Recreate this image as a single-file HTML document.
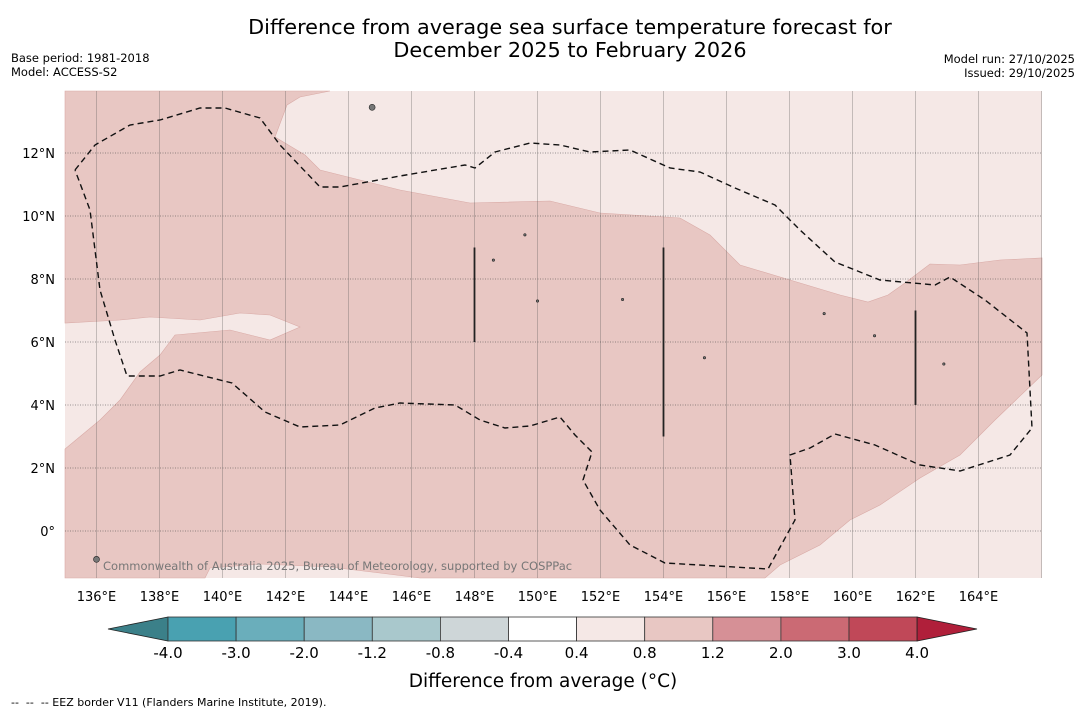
<!DOCTYPE html>
<html><head><meta charset="utf-8"><style>
body{margin:0;background:#fff;}
svg{display:block;font-family:"DejaVu Sans","Liberation Sans",sans-serif;}
</style></head><body>
<svg id="c" width="1085" height="713" viewBox="0 0 1085 713">
<text x="570" y="34" text-anchor="middle" font-size="20.8">Difference from average sea surface temperature forecast for</text>
<text x="570" y="57" text-anchor="middle" font-size="20.8">December 2025 to February 2026</text>
<text x="11" y="62" font-size="11.5">Base period: 1981-2018</text>
<text x="11" y="76" font-size="11.5">Model: ACCESS-S2</text>
<text x="1075" y="63" font-size="11.5" text-anchor="end">Model run: 27/10/2025</text>
<text x="1075" y="77" font-size="11.5" text-anchor="end">Issued: 29/10/2025</text>
<text x="11" y="706" font-size="11" xml:space="preserve">--  --  -- EEZ border V11 (Flanders Marine Institute, 2019).</text>
<g id="map"></g>
<g id="cbar"></g>
</svg>
<script>
const lonTicks=[136,138,140,142,144,146,148,150,152,154,156,158,160,162,164];
const latTicks=[0,2,4,6,8,10,12];
const cbLevels=["-4.0","-3.0","-2.0","-1.2","-0.8","-0.4","0.4","0.8","1.2","2.0","3.0","4.0"];
const cbColors=["#49a1b1","#6aaebb","#8ab8c3","#a9c8cc","#ced6d8","#ffffff","#f5e8e6","#e8c7c3","#d69096","#cb6a74","#c04858"];
const darkPx=[[65,91],[330,91],[300,97],[287,105],[275,137],[305,155],[320,170],[400,190],[470,203],[550,201],[600,213],[680,218],[710,235],[740,265],[790,280],[840,295],[868,302],[888,295],[905,283],[930,264],[960,265],[1000,260],[1042,258],[1042,375],[995,420],[960,455],[920,478],[880,505],[850,520],[820,545],[780,565],[765,578],[420,578],[380,573],[330,567],[260,564],[210,568],[205,578],[65,578],[65,449],[100,420],[120,400],[140,372],[160,355],[175,335],[230,330],[270,340],[300,327],[270,315],[240,313],[200,320],[150,317],[120,320],[65,323]];
const eezPx=[[75,170],[95,145],[130,125],[160,120],[200,108],[225,108],[260,118],[280,145],[320,187],[340,187],[400,176],[465,165],[475,168],[495,152],[530,143],[560,145],[590,152],[630,150],[670,168],[700,172],[735,188],[775,205],[800,230],[835,262],[880,280],[935,285],[950,277],[985,300],[1027,333],[1032,428],[1010,455],[960,471],[920,465],[875,445],[835,434],[810,448],[790,455],[795,520],[768,569],[665,563],[630,545],[600,510],[583,480],[592,452],[575,435],[560,417],[530,426],[505,428],[480,420],[455,405],[400,403],[375,408],[340,425],[300,427],[265,412],[232,383],[180,370],[160,376],[127,376],[115,340],[100,290],[90,210],[75,170]];
const darkLL=darkPx.map(p=>[135+(p[0]-65)/31.5,(531-p[1])/31.5]);
const eezLL=eezPx.map(p=>[135+(p[0]-65)/31.5,(531-p[1])/31.5]);
const segLon=[148,154,162], segLat0=[6,3,4], segLat1=[9,9,7];
const islLon=[144.75,149.6,152.7,155.3,159.1,160.7,162.9,136.0,150.0,148.6];
const islLat=[13.45,9.4,7.35,5.5,6.9,6.2,5.3,-0.9,7.3,8.6];

const NS="http://www.w3.org/2000/svg";
const X=lon=>65+(lon-135)*31.5, Y=lat=>531-lat*31.5;
function mk(t,a,p){const e=document.createElementNS(NS,t);for(const k in a)e.setAttribute(k,a[k]);(p||map).appendChild(e);return e;}
const map=document.getElementById('map'), cb=document.getElementById('cbar');

let r=mk('rect',{x:65,y:91,width:977,height:487,fill:'#f5e8e6'});


let pg=mk('polygon',{points:darkLL.map(p=>X(p[0])+','+Y(p[1])).join(' '),fill:'#e8c7c3',stroke:'#d9aaa6','stroke-width':0.6});



lonTicks.concat([166]).forEach(l=>{
  const g=mk('line',{x1:X(l),x2:X(l),y1:91,y2:578,stroke:'rgba(80,80,80,0.3)','stroke-width':1});
  
  
});
latTicks.forEach(l=>{
  const g=mk('line',{x1:65,x2:1042,y1:Y(l),y2:Y(l),stroke:'rgba(60,60,60,0.5)','stroke-width':1,'stroke-dasharray':'1,1.5'});
  
  
});
islLon.forEach((l,i)=>{
  const d=mk('circle',{cx:X(l),cy:Y(islLat[i]),r:i==0||i==7?3:1.2,fill:'#777',stroke:'#222','stroke-width':0.6});
  
  
});
let ez=mk('polyline',{points:eezLL.map(p=>X(p[0])+','+Y(p[1])).join(' '),fill:'none',stroke:'#111','stroke-width':1.4,'stroke-dasharray':'6,4'});


segLon.forEach((l,i)=>{
  const s=mk('line',{x1:X(l),x2:X(l),y1:Y(segLat0[i]),y2:Y(segLat1[i]),stroke:'#222','stroke-width':1.8});
  
  
});
let ct=mk('text',{x:103,y:570,'font-size':11.5,fill:'#777'});
ct.textContent='Commonwealth of Australia 2025, Bureau of Meteorology, supported by COSPPac';


lonTicks.forEach(l=>{
  const t=mk('text',{x:X(l),y:601,'font-size':13,'text-anchor':'middle'});
  t.textContent=l+'°E';
  
  
});
latTicks.forEach(l=>{
  const t=mk('text',{x:55,y:Y(l)+5,'font-size':13,'text-anchor':'end'});
  t.textContent=l==0?'0°':l+'°N';
  
  
});

const cx0=168,cw=68.1,cy=617,ch=24;
let lt=mk('polygon',{points:`${cx0},${cy} 108,${cy+ch/2} ${cx0},${cy+ch}`,fill:'#3b8089',stroke:'#222','stroke-width':0.8},cb);


cbColors.forEach((c,i)=>{
  const b=mk('rect',{x:cx0+i*cw,y:cy,width:cw,height:ch,fill:c,stroke:'#333','stroke-width':0.8},cb);
  
  
});
const ce=cx0+cbColors.length*cw;
let rt=mk('polygon',{points:`${ce},${cy} 977,${cy+ch/2} ${ce},${cy+ch}`,fill:'#b01f3a',stroke:'#222','stroke-width':0.8},cb);


cbLevels.forEach((v,i)=>{
  const t=mk('text',{x:cx0+i*cw,y:658,'font-size':15,'text-anchor':'middle'},cb);
  t.textContent=v;
  
  
});
let cl=mk('text',{x:543,y:687,'font-size':18.5,'text-anchor':'middle'},cb);
cl.textContent='Difference from average (°C)';


</script>
</body></html>
